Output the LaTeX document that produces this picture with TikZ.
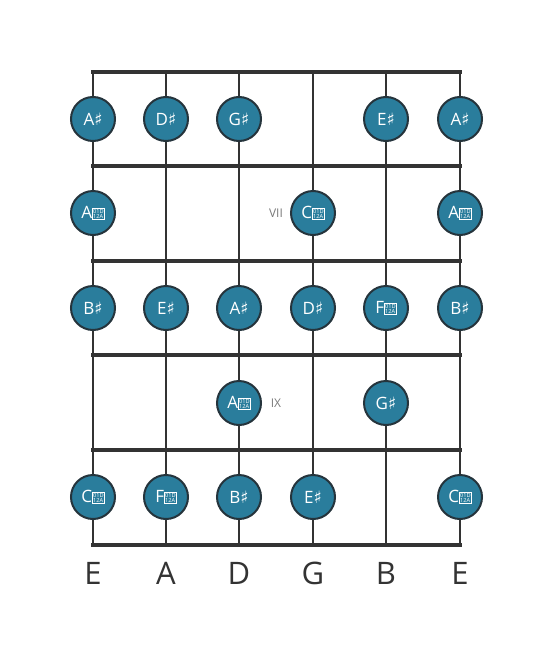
\documentclass[tikz,border=0pt]{standalone}
\usepackage{fontspec}
\setmainfont{Open Sans}
\newfontfamily\symfont{DejaVu Sans}
\newcommand{\shp}{{\symfont\char"266F}}
% double sharp: no installed font has it, drawn as the missing-glyph box
\newcommand{\dshp}{{\fontsize{5.6}{5.6}\selectfont\setlength{\fboxsep}{0.5pt}\setlength{\fboxrule}{0.5pt}\fbox{\vbox{\baselineskip=5.4pt\hbox{01D}\hbox{12A}}}}}
\definecolor{fretgray}{HTML}{333333}
\definecolor{ringgray}{HTML}{25343C}
\definecolor{noteblue}{HTML}{2A7D9C}
\definecolor{markgray}{HTML}{7A7A7A}
\begin{document}
\begin{tikzpicture}
    [
    x=1pt,y=-1pt,
    string/.style={line width=2.5pt,draw=fretgray},
    fret/.style={line width=4.5pt,draw=fretgray,line cap=rect},
    note/.style={circle,draw=ringgray,line width=2pt,fill=noteblue,inner sep=0pt,minimum size=44pt,text=white,font=\fontsize{17}{17}\selectfont},
    marker/.style={text=markgray,font=\fontsize{12}{12}\selectfont},
    tuning/.style={text=fretgray,font=\fontsize{31}{31}\selectfont}
    ]
    \useasboundingbox (0,0) rectangle (553,656);
    % string ends
    \coordinate (s1t) at (93,72);  \coordinate (s1b) at (93,545);
    \coordinate (s2t) at (166,72); \coordinate (s2b) at (166,545);
    \coordinate (s3t) at (239,72); \coordinate (s3b) at (239,545);
    \coordinate (s4t) at (313,72); \coordinate (s4b) at (313,545);
    \coordinate (s5t) at (386,72); \coordinate (s5b) at (386,545);
    \coordinate (s6t) at (460,72); \coordinate (s6b) at (460,545);
    \draw [string] (s1t) to (s1b);
    \draw [string] (s2t) to (s2b);
    \draw [string] (s3t) to (s3b);
    \draw [string] (s4t) to (s4b);
    \draw [string] (s5t) to (s5b);
    \draw [string] (s6t) to (s6b);
    % frets
    \coordinate (f0l) at (93,72);  \coordinate (f0r) at (460,72);
    \coordinate (f1l) at (93,166); \coordinate (f1r) at (460,166);
    \coordinate (f2l) at (93,261); \coordinate (f2r) at (460,261);
    \coordinate (f3l) at (93,355); \coordinate (f3r) at (460,355);
    \coordinate (f4l) at (93,450); \coordinate (f4r) at (460,450);
    \coordinate (f5l) at (93,545); \coordinate (f5r) at (460,545);
    \draw [fret] (f0l) to (f0r);
    \draw [fret] (f1l) to (f1r);
    \draw [fret] (f2l) to (f2r);
    \draw [fret] (f3l) to (f3r);
    \draw [fret] (f4l) to (f4r);
    \draw [fret] (f5l) to (f5r);
    % notes
    \node (n11) at (93,119)  [note] {A\shp};
    \node (n12) at (166,119) [note] {D\shp};
    \node (n13) at (239,119) [note] {G\shp};
    \node (n15) at (386,119) [note] {E\shp};
    \node (n16) at (460,119) [note] {A\shp};
    \node (n21) at (93,213)  [note] {A\dshp};
    \node (n24) at (313,213) [note] {C\dshp};
    \node (n26) at (460,213) [note] {A\dshp};
    \node (n31) at (93,308)  [note] {B\shp};
    \node (n32) at (166,308) [note] {E\shp};
    \node (n33) at (239,308) [note] {A\shp};
    \node (n34) at (313,308) [note] {D\shp};
    \node (n35) at (386,308) [note] {F\dshp};
    \node (n36) at (460,308) [note] {B\shp};
    \node (n43) at (239,403) [note] {A\dshp};
    \node (n45) at (386,403) [note] {G\shp};
    \node (n51) at (93,497)  [note] {C\dshp};
    \node (n52) at (166,497) [note] {F\dshp};
    \node (n53) at (239,497) [note] {B\shp};
    \node (n54) at (313,497) [note] {E\shp};
    \node (n56) at (460,497) [note] {C\dshp};
    % fret markers
    \node (vii) at (276,213) [marker] {VII};
    \node (ix) at (276,403) [marker] {IX};
    % tuning
    \node (t1) at (93,573)  [tuning] {E};
    \node (t2) at (166,573) [tuning] {A};
    \node (t3) at (239,573) [tuning] {D};
    \node (t4) at (313,573) [tuning] {G};
    \node (t5) at (386,573) [tuning] {B};
    \node (t6) at (460,573) [tuning] {E};
\end{tikzpicture}
\end{document}
